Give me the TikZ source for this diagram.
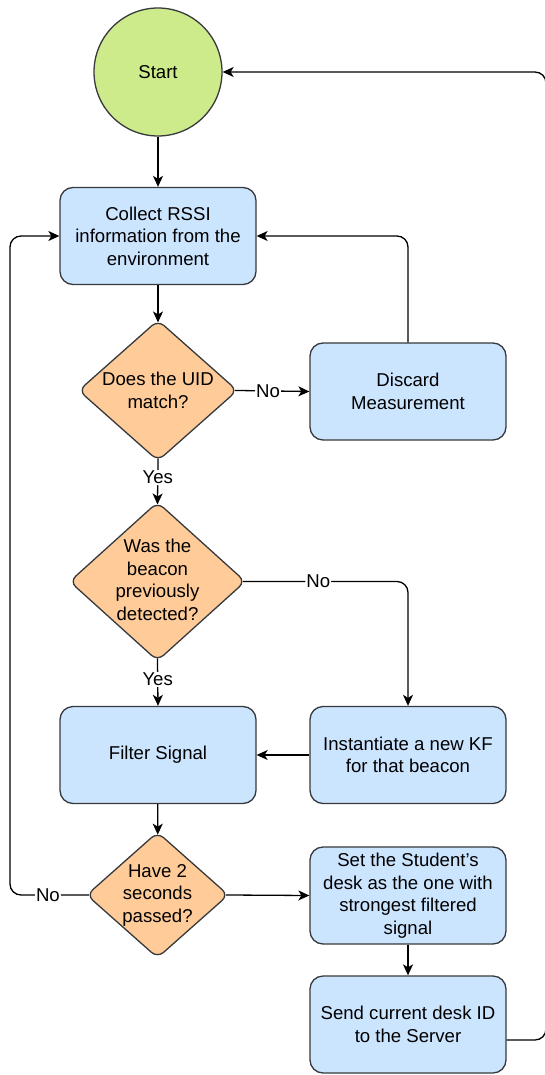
\documentclass[tikz,border=0pt]{standalone}
\usepackage{fontspec}
\setmainfont{Liberation Sans}
\usetikzlibrary{shapes.geometric,arrows.meta}
\definecolor{startfill}{HTML}{CDEB8B}
\definecolor{boxfill}{HTML}{CCE5FF}
\definecolor{decfill}{HTML}{FFCC99}
\definecolor{edge}{HTML}{36393D}
\tikzset{
  base/.style={draw=edge, line width=1.3pt, font=\fontsize{18.6}{22.5}\selectfont, align=center, inner sep=0pt},
  stepbox/.style={base, rectangle, rounded corners=13pt, fill=boxfill, minimum width=196pt, minimum height=97pt},
  startnode/.style={base, circle, fill=startfill, minimum size=128pt},
  decision/.style={base, diamond, rounded corners=8pt, fill=decfill},
  dectext/.style={font=\fontsize{18.6}{22.5}\selectfont, align=center, inner sep=0pt},
  conn/.style={line width=1.3pt, rounded corners=11pt, -{Stealth[length=11pt,width=10pt,inset=3pt]}},
  fromdec/.style={shorten <=-3.3pt},
  todec/.style={shorten >=-3.1pt},
  lbl/.style={fill=white, inner sep=1pt, font=\fontsize{18.6}{22.5}\selectfont},
}
\begin{document}
\begin{tikzpicture}[x=1pt,y=-1pt]
\useasboundingbox (0,0) rectangle (545,1075);
\node[startnode] (start) at (158,72) {Start};
\node[stepbox] (collect) at (158,236) {Collect RSSI\\information from the\\environment};
\node[decision, minimum width=159pt, minimum height=141pt] (d1) at (158,390.5) {};
\node[dectext] (d1t) at (d1) {Does the UID\\match?};
\node[stepbox] (discard) at (408,391.5) {Discard\\Measurement};
\node[decision, minimum width=176pt, minimum height=159pt] (d2) at (157.5,581.5) {};
\node[dectext] (d2t) at ([yshift=1.5pt]d2.center) {Was the\\beacon\\previously\\detected?};
\node[stepbox] (filter) at (158,755) {Filter Signal};
\node[stepbox] (inst) at (408,755) {Instantiate a new KF\\for that beacon};
\node[decision, minimum width=142pt, minimum height=126pt] (d3) at (157.5,895) {};
\node[dectext] (d3t) at (d3) {Have 2\\seconds\\passed?};
\node[stepbox] (set) at (408,895.5) {Set the Student\char"27 s\\desk as the one with\\strongest filtered\\signal};
\node[stepbox] (send) at (408,1024.5) {Send current desk ID\\to the Server};
\coordinate (lc) at (10,895);
\coordinate (rb) at (546,1040);

\draw[conn] (start) -- (collect);
\draw[conn, todec] (collect) -- (d1);
\draw[conn, fromdec] (d1.east) -- node[lbl, pos=0.42] {No} (discard.west);
\draw[conn] (discard.north) |- (collect.east);
\draw[conn, fromdec, todec] (d1.south) -- node[lbl, pos=0.4] {Yes} (d2.north);
\draw[conn, fromdec] (d2.east) -| node[lbl, pos=0.223] {No} (inst.north);
\draw[conn, fromdec] (d2.south) -- node[lbl, pos=0.4] {Yes} (filter.north);
\draw[conn] (inst.west) -- (filter.east);
\draw[conn, todec] (filter) -- (d3);
\draw[conn, fromdec] (d3.east) -- (set.west);
\draw[conn, fromdec] (d3.west) -- node[lbl, pos=0.5] {No} (lc) |- (collect.west);
\draw[conn] (set) -- (send);
\draw[conn] ([yshift=-15.5pt]send.east) -- (rb) |- (start.east);
\end{tikzpicture}
\end{document}
